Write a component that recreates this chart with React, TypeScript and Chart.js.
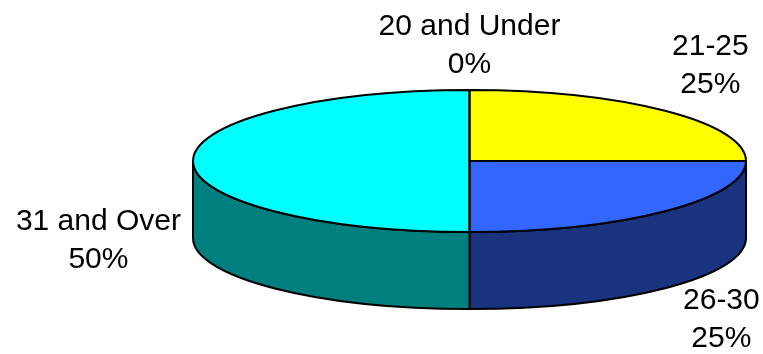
import React, { useEffect, useRef } from "react";
import { Chart, registerables } from "chart.js";

Chart.register(...registerables);

const categories = ["20 and Under", "21-25", "26-30", "31 and Over"];
const values = [0, 25, 25, 50];
const topColors = ["#FF00FF", "#FFFF00", "#3366FF", "#00FFFF"];
const sideColors = ["#800080", "#808000", "#1A337F", "#007F7F"];

const TILT = 71 / 276.5;
const DEPTH = 77;
const FONT = '30px "Liberation Sans", Arial, sans-serif';
const LINE_H = 38;

const pie3d = {
  id: "pie3d",
  beforeDatasetsDraw(chart: any) {
    const ctx = chart.ctx as CanvasRenderingContext2D;
    const meta = chart.getDatasetMeta(0);
    ctx.save();
    ctx.lineWidth = 2;
    ctx.strokeStyle = "#000";
    meta.data.forEach((arc: any, i: number) => {
      const { x, y, startAngle, endAngle, outerRadius } = arc.getProps(
        ["x", "y", "startAngle", "endAngle", "outerRadius"],
        true
      );
      const rx = outerRadius;
      const ry = outerRadius * TILT;
      const a1 = Math.max(startAngle, 0);
      const a2 = Math.min(endAngle, Math.PI);
      if (a2 <= a1) return;
      ctx.beginPath();
      ctx.ellipse(x, y, rx, ry, 0, a1, a2);
      ctx.lineTo(x + rx * Math.cos(a2), y + ry * Math.sin(a2) + DEPTH);
      ctx.ellipse(x, y + DEPTH, rx, ry, 0, a2, a1, true);
      ctx.closePath();
      ctx.fillStyle = sideColors[i];
      ctx.fill();
      ctx.stroke();
    });
    ctx.restore();
    const first = meta.data[0];
    const cx = first.x;
    const cy = first.y;
    ctx.save();
    ctx.translate(cx, cy);
    ctx.scale(1, TILT);
    ctx.translate(-cx, -cy);
  },
  afterDatasetsDraw(chart: any) {
    const ctx = chart.ctx as CanvasRenderingContext2D;
    ctx.restore();
    const meta = chart.getDatasetMeta(0);
    const total = values.reduce((a, b) => a + b, 0);
    ctx.save();
    ctx.lineWidth = 2;
    ctx.strokeStyle = "#000";
    meta.data.forEach((arc: any) => {
      const { x, y, startAngle, endAngle, outerRadius } = arc.getProps(
        ["x", "y", "startAngle", "endAngle", "outerRadius"],
        true
      );
      if (endAngle - startAngle <= 0) return;
      const rx = outerRadius;
      const ry = outerRadius * TILT;
      ctx.beginPath();
      ctx.moveTo(x, y);
      ctx.ellipse(x, y, rx, ry, 0, startAngle, endAngle);
      ctx.closePath();
      ctx.stroke();
    });
    // labels
    ctx.font = FONT;
    ctx.fillStyle = "#000";
    ctx.textBaseline = "alphabetic";
    meta.data.forEach((arc: any, i: number) => {
      const { x, y, startAngle, endAngle, outerRadius } = arc.getProps(
        ["x", "y", "startAngle", "endAngle", "outerRadius"],
        true
      );
      const rx = outerRadius;
      const ry = outerRadius * TILT;
      const a = (startAngle + endAngle) / 2;
      const c = Math.cos(a);
      const s = Math.sin(a);
      const front = s >= -0.01;
      const lines = [categories[i], Math.round((values[i] / total) * 100) + "%"];
      const w = Math.max(...lines.map((l) => ctx.measureText(l).width));
      let blockCx: number;
      if (c > 0.05) {
        blockCx = x + rx * c + (front ? 18 : 7) + w / 2;
      } else if (c < -0.05) {
        blockCx = x + rx * c - 12 - w / 2;
      } else {
        blockCx = x;
      }
      const blockCy = front
        ? y + ry * s + DEPTH + 42 * s
        : y + ry * s - 47;
      const base1 = blockCy - 8.5;
      ctx.textAlign = "center";
      lines.forEach((l, k) => {
        ctx.fillText(l, blockCx, base1 + k * LINE_H);
      });
    });
    ctx.restore();
  },
};

export default function App() {
  const ref = useRef<HTMLCanvasElement>(null);
  useEffect(() => {
    document.body.style.margin = "0";
    const chart = new Chart(ref.current as HTMLCanvasElement, {
      type: "pie",
      data: {
        labels: categories,
        datasets: [
          {
            data: values,
            backgroundColor: topColors,
            borderWidth: 0,
            radius: 276.5,
            clip: false,
          } as any,
        ],
      },
      options: {
        responsive: false,
        animation: false,
        events: [],
        layout: { padding: { left: 176, right: 0, top: 0, bottom: 32 } },
        plugins: {
          legend: { display: false },
          tooltip: { enabled: false },
        },
      },
      plugins: [pie3d],
    });
    return () => chart.destroy();
  }, []);
  return (
    <div style={{ position: "absolute", left: 0, top: 0, width: 763, height: 354 }}>
      <canvas ref={ref} width={763} height={354} />
    </div>
  );
}
